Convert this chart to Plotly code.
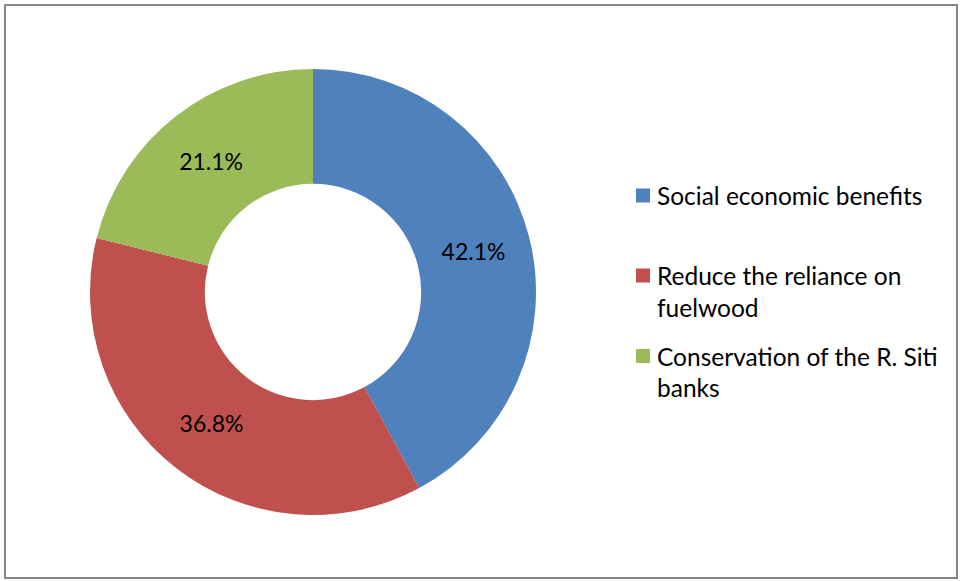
import plotly.graph_objects as go

categories = ["Social economic benefits", "Reduce the reliance on fuelwood", "Conservation of the R. Siti banks"]
legend_lines = [["Social economic benefits"], ["Reduce the reliance on", "fuelwood"], ["Conservation of the R. Siti", "banks"]]
values = [42.1, 36.8, 21.1]
colors = ["#4F81BD", "#C0504D", "#9BBB59"]

W, H = 964, 581
FONT = "Lato"

fig = go.Figure()
fig.add_trace(go.Pie(
    labels=categories,
    values=values,
    hole=0.485,
    sort=False,
    direction="clockwise",
    rotation=0,
    marker=dict(colors=colors, line=dict(width=0)),
    texttemplate="%{value:.1f}%",
    textposition="inside",
    insidetextorientation="horizontal",
    insidetextfont=dict(family=FONT, size=23, color="black"),
    domain=dict(x=[(313 - 223) / W, (313 + 223) / W], y=[(H - 515) / H, (H - 69) / H]),
    showlegend=False,
    hoverinfo="label+percent",
))

# manual legend (Excel-style, evenly spaced slots)
item_y = [195.5, 275.5, 356]
line_gap = 32
shapes = [dict(type="rect", xref="paper", yref="paper",
               x0=5 / W, x1=957 / W, y0=1 - 578 / H, y1=1 - 5 / H,
               line=dict(color="#868686", width=2), fillcolor="rgba(0,0,0,0)", layer="below")]
annotations = []
for i, lines in enumerate(legend_lines):
    yc = item_y[i]
    shapes.append(dict(type="rect", xref="paper", yref="paper",
                       x0=636 / W, x1=650 / W, y0=1 - (yc + 7) / H, y1=1 - (yc - 7) / H,
                       line=dict(width=0), fillcolor=colors[i]))
    for j, ln in enumerate(lines):
        annotations.append(dict(text=ln, xref="paper", yref="paper", x=655 / W, y=1 - (yc + j * line_gap) / H,
                                xanchor="left", yanchor="middle", showarrow=False,
                                font=dict(family=FONT, size=24.5, color="black")))

fig.update_layout(
    width=W, height=H,
    margin=dict(l=0, r=0, t=0, b=0),
    paper_bgcolor="white",
    plot_bgcolor="white",
    shapes=shapes,
    annotations=annotations,
    font=dict(family=FONT),
)

fig.write_html("out.html")
